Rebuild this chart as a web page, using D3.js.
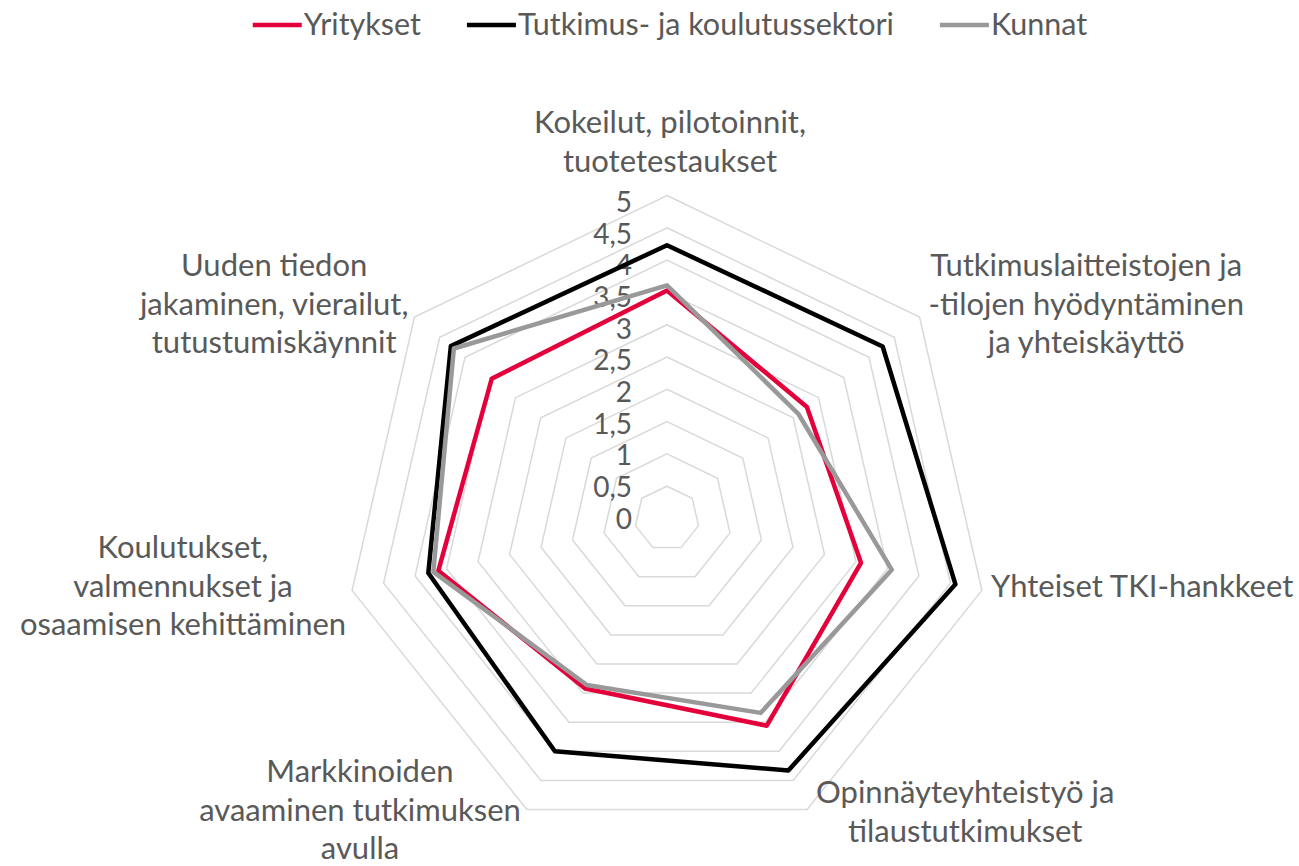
<!DOCTYPE html>
<html>
<head>
	<meta charset="utf-8">
	<title></title>
	<style>
	body{
		margin: 0;
		background: #fff;
	}
	svg text{
		font-family: Lato, "Open Sans", sans-serif;
		fill: #595959;
	}
	.rings path{
		fill: none;
		stroke: #d9d9d9;
		stroke-width: 1.5px;
	}
	.series path{
		fill: none;
		stroke-width: 4.5px;
		stroke-linejoin: round;
	}
	</style>
</head>
<body>
	<svg width="1299" height="866"></svg>
	<script src="https://d3js.org/d3.v7.min.js"></script>
	<script type="text/javascript">

		var categories = [
			"Kokeilut, pilotoinnit,\ntuotetestaukset",
			"Tutkimuslaitteistojen ja\n-tilojen hyödyntäminen\nja yhteiskäyttö",
			"Yhteiset TKI-hankkeet",
			"Opinnäyteyhteistyö ja\ntilaustutkimukset",
			"Markkinoiden\navaaminen tutkimuksen\navulla",
			"Koulutukset,\nvalmennukset ja\nosaamisen kehittäminen",
			"Uuden tiedon\njakaminen, vierailut,\ntutustumiskäynnit"
		];
		var seriesNames = ["Yritykset", "Tutkimus- ja koulutussektori", "Kunnat"];
		var seriesColors = ["#e4003a", "#000000", "#999999"];
		var yritykset = [3.53, 2.77, 3.08, 3.56, 2.92, 3.63, 3.47];
		var tutkimus  = [4.23, 4.27, 4.58, 4.33, 4.00, 3.79, 4.28];
		var kunnat    = [3.61, 2.60, 3.57, 3.34, 2.86, 3.71, 4.22];
		var tickValues = [0, 0.5, 1, 1.5, 2, 2.5, 3, 3.5, 4, 4.5, 5];
		var tickLabels = ["0", "0,5", "1", "1,5", "2", "2,5", "3", "3,5", "4", "4,5", "5"];

		var svg = d3.select("svg");
		var cx = 667, cy = 518.5, R = 323;
		var lineH = 38.5;

		var angle = d3.scaleLinear().domain([0, categories.length]).range([0, 2 * Math.PI]);
		var r = d3.scaleLinear().domain([0, 5]).range([0, R]);

		var g = svg.append("g").attr("transform", "translate(" + cx + "," + cy + ")");

		// grid rings
		g.append("g").attr("class", "rings")
			.selectAll("path")
			.data(tickValues.filter(function(v){ return v > 0; }))
			.enter().append("path")
			.attr("d", function(v){
				return d3.lineRadial()
					.angle(function(d, i){ return angle(i); })
					.radius(r(v))
					.curve(d3.curveLinearClosed)(categories);
			});

		// value labels on the vertical axis
		g.append("g").selectAll("text")
			.data(tickValues)
			.enter().append("text")
			.attr("x", -35)
			.attr("y", function(v){ return -r(v) * 0.98; })
			.attr("dy", "0.36em")
			.attr("text-anchor", "end")
			.style("font-size", "28px")
			.text(function(v, i){ return tickLabels[i]; });

		// series
		var seriesData = [yritykset, tutkimus, kunnat];
		var radarLine = d3.lineRadial()
			.angle(function(d, i){ return angle(i); })
			.radius(function(d){ return r(d); })
			.curve(d3.curveLinearClosed);

		g.append("g").attr("class", "series")
			.selectAll("path")
			.data(seriesData)
			.enter().append("path")
			.attr("stroke", function(d, i){ return seriesColors[i]; })
			.attr("d", radarLine);

		// category labels
		var maxLastBase = 866 - cy - 7;
		categories.forEach(function(label, i){
			var a = angle(i);
			var dx = Math.sin(a), dy = -Math.cos(a);
			var vx = r(5) * dx, vy = r(5) * dy;
			var lines = label.split("\n");
			var t = g.append("text").style("font-size", "31px").attr("text-anchor", "middle");
			var spans = lines.map(function(l){ return t.append("tspan").text(l); });
			var w = d3.max(spans, function(s){ return s.node().getComputedTextLength(); });
			var mid;
			if (dx > 0.1) mid = vx + 9 + w / 2;
			else if (dx < -0.1) mid = vx - 6 - w / 2;
			else mid = vx + 3;
			var firstBase;
			if (dy < -0.9) firstBase = vy - 24 - (lines.length - 1) * lineH;
			else {
				var centerY = vy - 6 + 10 * dy;
				firstBase = centerY - (lines.length - 1) * lineH / 2 + 10;
			}
			// keep the last line inside the picture
			var lastBase = firstBase + (lines.length - 1) * lineH;
			if (lastBase > maxLastBase) firstBase -= lastBase - maxLastBase;
			spans.forEach(function(s, k){
				s.attr("x", mid).attr("y", firstBase + k * lineH);
			});
		});

		// legend
		var legend = svg.append("g");
		var items = seriesNames.map(function(name, i){
			var it = legend.append("g");
			it.append("line")
				.attr("x1", 0).attr("x2", 49)
				.attr("y1", 25).attr("y2", 25)
				.attr("stroke", seriesColors[i])
				.attr("stroke-width", 4.5);
			var tx = it.append("text")
				.attr("x", 51).attr("y", 35)
				.style("font-size", "30.5px")
				.text(name);
			return { g: it, w: 51 + tx.node().getComputedTextLength() };
		});
		var gap = 46;
		var total = d3.sum(items, function(d){ return d.w; }) + gap * (items.length - 1);
		var x0 = 670 - total / 2;
		items.forEach(function(d){
			d.g.attr("transform", "translate(" + x0 + ",0)");
			x0 += d.w + gap;
		});
	</script>
</body>
</html>
